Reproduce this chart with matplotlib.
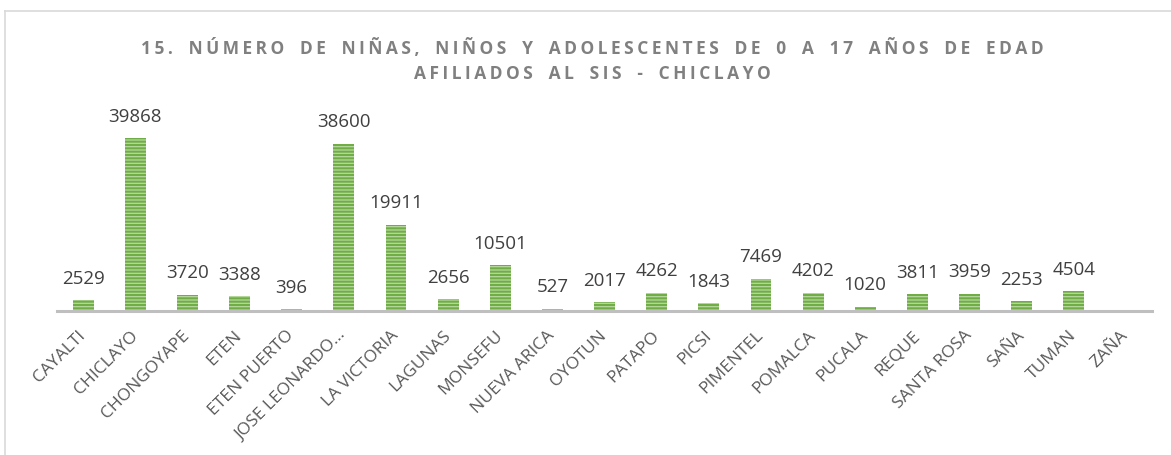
import numpy as np
import matplotlib
matplotlib.use('Agg')
import matplotlib.pyplot as plt
from matplotlib.lines import Line2D

plt.rcParams['font.family'] = ['Open Sans', 'DejaVu Sans']
plt.rcParams['hatch.linewidth'] = 1.5

DISTRITOS = ['CAYALTI', 'CHICLAYO', 'CHONGOYAPE', 'ETEN', 'ETEN PUERTO',
             'JOSE LEONARDO…', 'LA VICTORIA', 'LAGUNAS', 'MONSEFU', 'NUEVA ARICA',
             'OYOTUN', 'PATAPO', 'PICSI', 'PIMENTEL', 'POMALCA', 'PUCALA',
             'REQUE', 'SANTA ROSA', 'SAÑA', 'TUMAN', 'ZAÑA']
AFILIADOS = [2529, 39868, 3720, 3388, 396, 38600, 19911, 2656, 10501, 527,
             2017, 4262, 1843, 7469, 4202, 1020, 3811, 3959, 2253, 4504, None]

TITULO_1 = '15. NÚMERO DE NIÑAS, NIÑOS Y ADOLESCENTES DE 0 A 17 AÑOS DE EDAD'
TITULO_2 = 'AFILIADOS AL SIS - CHICLAYO'


def espaciado(txt):
    # letter spacing like the original office chart title
    return '\u2009'.join(c if c != ' ' else '\u2002' for c in txt)


fig = plt.figure(figsize=(11.71, 4.55), dpi=100)
ax = fig.add_axes([57 / 1171, 1 - 311 / 455, 1095 / 1171, 195 / 455])

x = np.arange(len(DISTRITOS))
vals = np.array([np.nan if v is None else v for v in AFILIADOS], dtype=float)
ax.bar(x, np.nan_to_num(vals), width=0.4, color='#B5D99C', edgecolor='#70AD47',
       hatch='-----', linewidth=0)

for xi, v in zip(x, AFILIADOS):
    if v is None:
        continue
    ax.annotate(str(v), (xi, v), xytext=(0, 9), textcoords='offset points',
                ha='center', va='bottom', fontsize=13.5, color='#404040')

ax.set_xlim(-0.5, len(DISTRITOS) - 0.5)
ax.set_ylim(0, 45000)
ax.set_yticks([])
for s in ['top', 'right', 'left']:
    ax.spines[s].set_visible(False)
ax.spines['bottom'].set_color('#BFBFBF')
ax.spines['bottom'].set_linewidth(2.2)
ax.set_xticks(x)
ax.set_xticklabels(DISTRITOS, rotation=45, ha='right', va='center',
                   rotation_mode='anchor', fontsize=12.5, color='#595959')
ax.tick_params(axis='x', length=0, pad=16)

fig.text(0.506, 1 - 48 / 455, espaciado(TITULO_1), ha='center', va='center',
         fontsize=12.5, fontweight='bold', color='#808080')
fig.text(0.506, 1 - 74 / 455, espaciado(TITULO_2), ha='center', va='center',
         fontsize=12.5, fontweight='bold', color='#808080')

# chart frame (only top and left visible in the crop)
fig.add_artist(Line2D([5 / 1171, 5 / 1171], [0, 1 - 11 / 455], color='#D9D9D9', lw=1.2))
fig.add_artist(Line2D([5 / 1171, 1], [1 - 11 / 455, 1 - 11 / 455], color='#D9D9D9', lw=1.2))

fig.savefig('out.png', dpi=100, facecolor='white')
